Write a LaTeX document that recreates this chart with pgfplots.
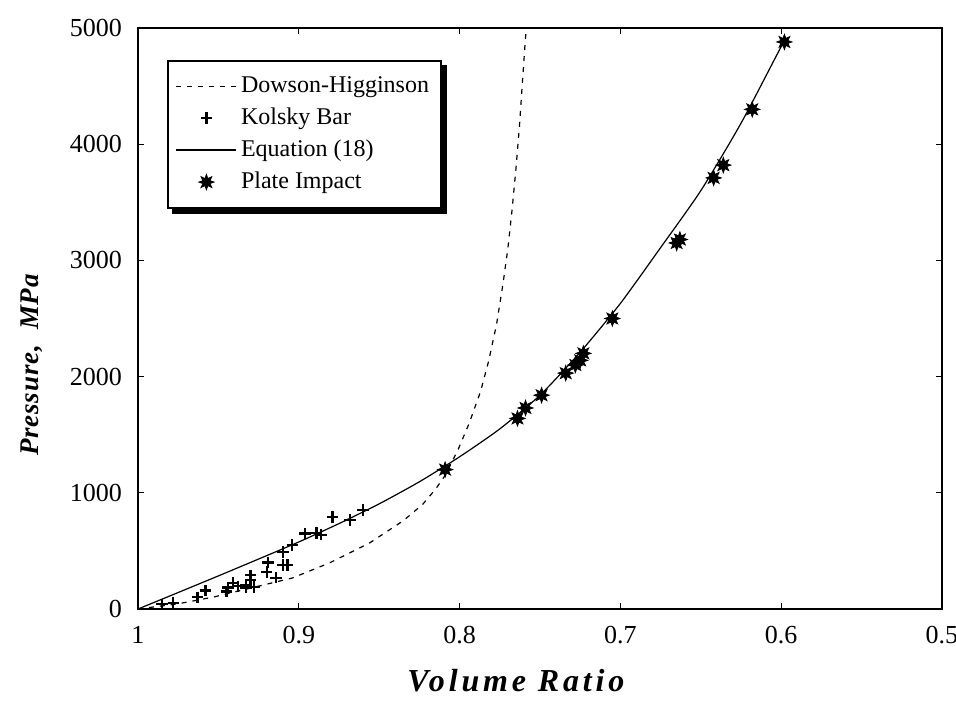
\documentclass[border=0pt]{standalone}
\usepackage{fontspec}
\setmainfont{Liberation Serif}
\newfontfamily\labfont[LetterSpace=12]{Liberation Serif}
\newfontfamily\ylabfont[LetterSpace=3]{Liberation Serif}
\usepackage{pgfplots}
\pgfplotsset{compat=1.18}

\pgfdeclareplotmark{pstar}{%
  \pgfpathmoveto{\pgfpointpolar{0}{\pgfplotmarksize}}%
  \pgfpathlineto{\pgfpointpolar{22.5}{0.5*\pgfplotmarksize}}%
  \pgfpathlineto{\pgfpointpolar{45}{\pgfplotmarksize}}%
  \pgfpathlineto{\pgfpointpolar{67.5}{0.5*\pgfplotmarksize}}%
  \pgfpathlineto{\pgfpointpolar{90}{\pgfplotmarksize}}%
  \pgfpathlineto{\pgfpointpolar{112.5}{0.5*\pgfplotmarksize}}%
  \pgfpathlineto{\pgfpointpolar{135}{\pgfplotmarksize}}%
  \pgfpathlineto{\pgfpointpolar{157.5}{0.5*\pgfplotmarksize}}%
  \pgfpathlineto{\pgfpointpolar{180}{\pgfplotmarksize}}%
  \pgfpathlineto{\pgfpointpolar{202.5}{0.5*\pgfplotmarksize}}%
  \pgfpathlineto{\pgfpointpolar{225}{\pgfplotmarksize}}%
  \pgfpathlineto{\pgfpointpolar{247.5}{0.5*\pgfplotmarksize}}%
  \pgfpathlineto{\pgfpointpolar{270}{\pgfplotmarksize}}%
  \pgfpathlineto{\pgfpointpolar{292.5}{0.5*\pgfplotmarksize}}%
  \pgfpathlineto{\pgfpointpolar{315}{\pgfplotmarksize}}%
  \pgfpathlineto{\pgfpointpolar{337.5}{0.5*\pgfplotmarksize}}%
  \pgfpathclose
  \pgfusepathqfillstroke}

\begin{document}
\begin{tikzpicture}
\useasboundingbox (-69pt,-52.5pt) rectangle (409pt,304.5pt);
\begin{axis}[
  at={(0,0)}, anchor=south west,
  scale only axis, width=402pt, height=290.5pt,
  x dir=reverse,
  xmin=0.5, xmax=1, ymin=0, ymax=5000,
  xtick={0.5,0.6,0.7,0.8,0.9,1},
  ytick={0,1000,2000,3000,4000,5000},
  scaled ticks=false,
  /pgf/number format/assume math mode=true,
  /pgf/number format/set thousands separator={},
  xticklabel style={/pgf/number format/fixed, font=\fontsize{13}{15}\selectfont, yshift=-5pt},
  yticklabel style={font=\fontsize{13}{15}\selectfont, xshift=-4.5pt},
  major tick length=3pt,
  tick style={line width=0.6pt, black},
  axis line style={line width=1.2pt},
  xlabel={\labfont\bfseries\itshape Volume Ratio},
  ylabel={\ylabfont\bfseries\itshape Pressure,\ \ MPa},
  xlabel style={at={(axis description cs:0.47,-0.124)}, anchor=center, font=\fontsize{16}{18}\selectfont},
  ylabel style={at={(axis description cs:-0.132,0.42)}, anchor=center, rotate=0, font=\fontsize{13.5}{16}\selectfont},
  legend image code/.code={\draw[mark repeat=2,mark phase=2,#1] plot coordinates {(0pt,0pt) (15pt,0pt) (30pt,0pt)};},
  legend style={at={(rel axis cs:0.036,0.945)}, anchor=north west, name=leg,
    font=\fontsize{12}{13}\selectfont, draw=black, line width=0.9pt,
    row sep=2.2pt, inner xsep=4pt, inner ysep=6pt,
    legend cell align=left},
]
% Dowson-Higginson
\addplot[black, line width=0.6pt, dash pattern=on 2.5pt off 3pt] coordinates {
(1.0,0) (0.975,45) (0.953,103) (0.93,180) (0.904,267) (0.881,396) (0.856,568)
(0.835,760) (0.823,900) (0.815,1030) (0.809,1150) (0.801,1370) (0.794,1600)
(0.787,1870) (0.782,2130) (0.777,2450) (0.773,2800) (0.770,3100) (0.7674,3430)
(0.765,3780) (0.7628,4150) (0.761,4520) (0.7592,4880) (0.7585,5000)};
\addlegendentry{Dowson-Higginson}
% Kolsky Bar
\addplot[black, only marks, mark=+, mark size=2.9pt, line width=1.1pt] coordinates {
(0.985,40) (0.978,55) (0.963,100) (0.958,160) (0.945,150) (0.944,185) (0.941,225)
(0.938,195) (0.933,210) (0.933,185) (0.930,290) (0.928,190) (0.930,250)
(0.920,320) (0.919,400) (0.914,270) (0.910,380) (0.910,490) (0.907,380)
(0.904,550) (0.896,650) (0.889,655) (0.886,640) (0.879,790) (0.868,765) (0.860,850)};
\addlegendentry{Kolsky Bar}
% Equation (18)
\addplot[black, line width=0.6pt, smooth, tension=0.4] coordinates {
(1,0) (0.975,142) (0.95,285) (0.925,430) (0.9,577) (0.875,735) (0.85,905)
(0.825,1095) (0.8,1310) (0.775,1550) (0.75,1840) (0.725,2210) (0.7,2630)
(0.675,3110) (0.65,3600) (0.625,4180) (0.6,4840) (0.597,4900)};
\addlegendentry{Equation (18)}
% Plate Impact
\addplot[black, fill=black, only marks, mark=pstar, mark size=3.8pt, line width=0.4pt] coordinates {
(0.809,1200) (0.764,1640) (0.759,1730) (0.749,1840) (0.734,2030) (0.728,2100)
(0.725,2140) (0.723,2200) (0.705,2500) (0.665,3150) (0.663,3180) (0.642,3710)
(0.636,3820) (0.618,4300) (0.598,4880)};
\addlegendentry{Plate Impact}
\end{axis}
% legend drop shadow (right and bottom edges)
\fill[black] ([yshift=-2.4pt]leg.north east) rectangle ([xshift=2.4pt,yshift=-2.4pt]leg.south east);
\fill[black] ([xshift=2.4pt]leg.south west) rectangle ([xshift=2.4pt,yshift=-2.4pt]leg.south east);
\end{tikzpicture}
\end{document}
